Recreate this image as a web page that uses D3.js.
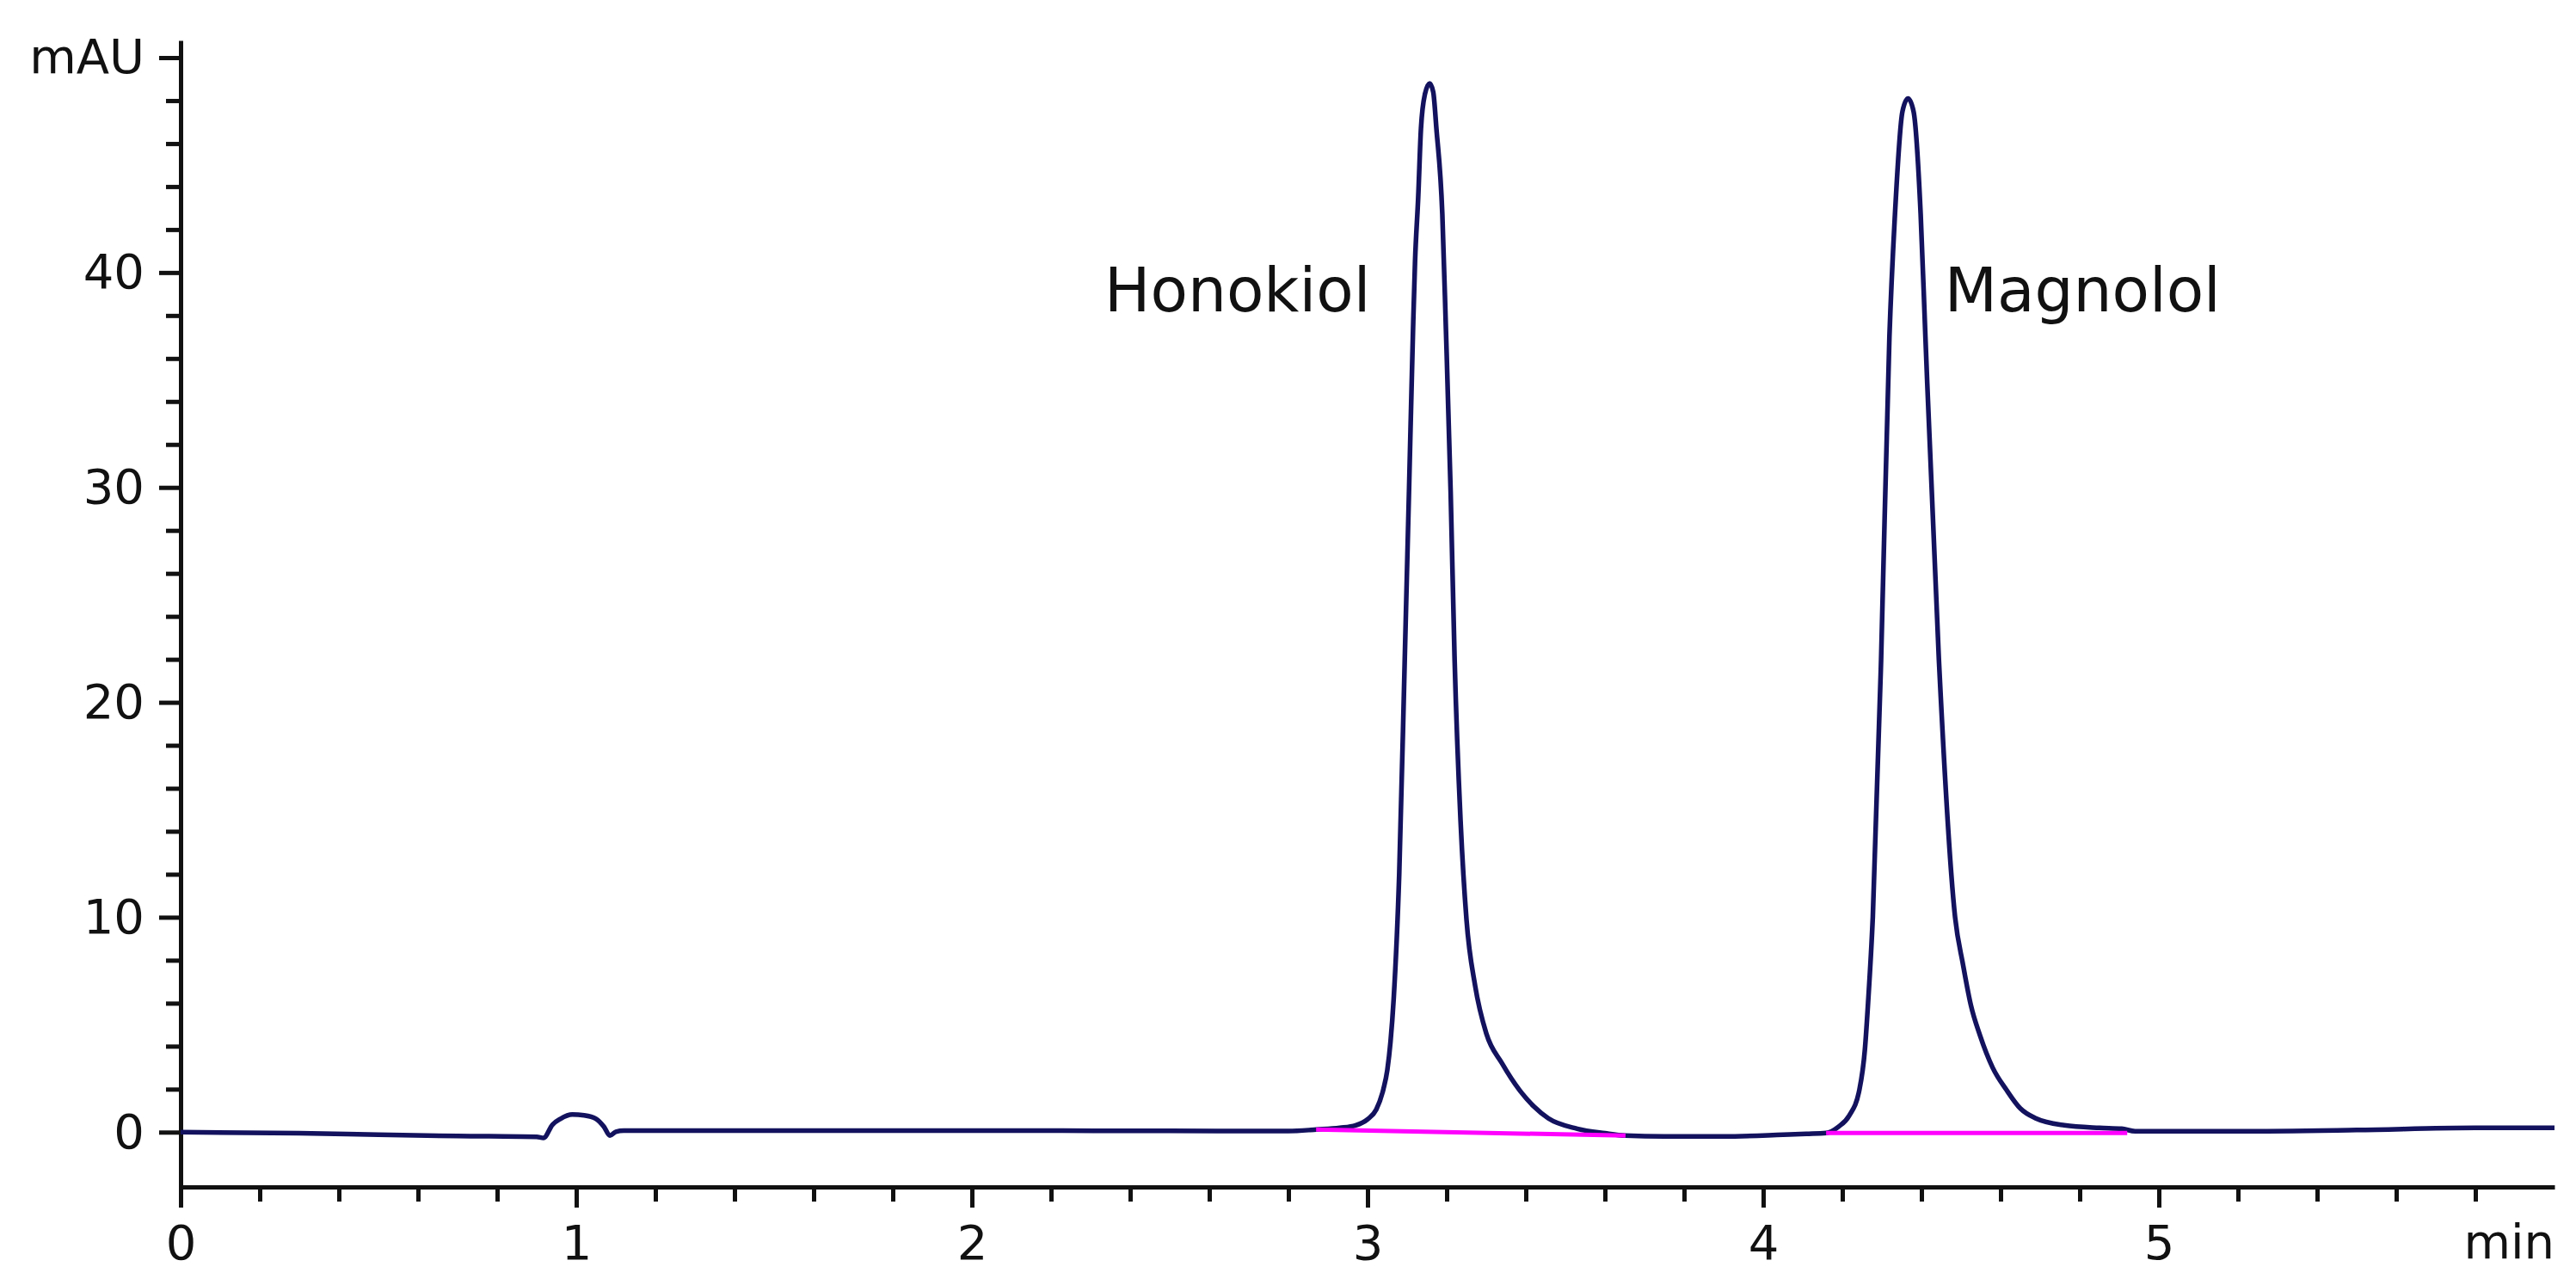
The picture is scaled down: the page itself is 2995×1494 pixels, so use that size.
<!DOCTYPE html>
<html>
<head>
<meta charset="utf-8">
<script src="https://cdn.jsdelivr.net/npm/d3@7"></script>
<style>
html, body { margin: 0; padding: 0; background: #ffffff; }
svg { display: block; }
text { font-family: "DejaVu Sans", sans-serif; fill: #111111; }
</style>
</head>
<body>
<svg id="chart" width="2995" height="1494"></svg>
<script>
// ---- data (time in min, absorbance in mAU) ----
const traceTime = [
  0.00, 0.30, 0.50, 0.70, 0.90, 0.917, 0.94, 0.96, 0.99, 1.02, 1.05, 1.07, 1.085, 1.10, 1.12,
  1.50, 2.00, 2.50, 2.70, 2.80, 2.87, 2.93, 2.97, 3.00, 3.022, 3.04, 3.05, 3.058, 3.066, 3.08,
  3.094, 3.105, 3.115, 3.12, 3.128, 3.135, 3.145, 3.157, 3.166, 3.174, 3.189, 3.198, 3.21, 3.22,
  3.235, 3.25, 3.272, 3.30, 3.34, 3.384, 3.42, 3.457, 3.53, 3.60, 3.652, 3.75, 3.90, 4.05, 4.109,
  4.159, 4.19, 4.217, 4.243, 4.257, 4.265, 4.277, 4.298, 4.319, 4.333, 4.352, 4.366, 4.380, 4.398,
  4.41, 4.444, 4.485, 4.505, 4.525, 4.548, 4.58, 4.615, 4.65, 4.689, 4.761, 4.85, 4.906, 4.94, 5.20, 5.50,
  5.80, 6.00
];
const traceSignal = [
  0.00, -0.05, -0.12, -0.18, -0.22, -0.27, 0.35, 0.62, 0.82, 0.78, 0.62, 0.25, -0.16, 0.02, 0.07,
  0.07, 0.07, 0.06, 0.05, 0.05, 0.12, 0.20, 0.32, 0.60, 1.05, 2.00, 2.90, 4.20, 6.20, 12.0,
  22.0, 30.0, 37.4, 40.5, 43.5, 46.7, 48.3, 48.8, 48.4, 46.7, 42.7, 37.4, 29.8, 22.0,
  14.5, 9.9, 6.8, 4.6, 3.2, 1.96, 1.2, 0.64, 0.16, -0.05, -0.16, -0.20, -0.20, -0.12, -0.08,
  -0.04, 0.25, 0.76, 1.96, 3.84, 6.0, 10.0, 22.0, 37.0, 42.7, 47.5, 48.1, 47.5, 42.7,
  37.0, 22.0, 10.0, 7.8, 5.9, 4.5, 3.0, 1.96, 1.1, 0.64, 0.32, 0.20, 0.16, 0.04, 0.04, 0.10,
  0.20, 0.20
];
// integration baselines: [startTime, startSignal, endTime, endSignal]
const honokiolBaseline = [2.87, 0.12, 3.652, -0.16];
const magnololBaseline = [4.159, -0.04, 4.92, -0.04];
const peakNames = ["Honokiol", "Magnolol"];
const peakLabelTime = [2.335, 4.458];
const peakLabelSignal = [38.2, 38.2];
const xMajorTicks = [0, 1, 2, 3, 4, 5];
const xMinorTicks = [0.2,0.4,0.6,0.8,1.2,1.4,1.6,1.8,2.2,2.4,2.6,2.8,3.2,3.4,3.6,3.8,4.2,4.4,4.6,4.8,5.2,5.4,5.6,5.8];
const yMajorTicks = [0, 10, 20, 30, 40, 50];
const yMinorTicks = [2,4,6,8,12,14,16,18,22,24,26,28,32,34,36,38,42,44,46,48];
const xUnit = "min";
const yUnit = "mAU";

// ---- layout ----
const svg = d3.select("#chart");
const x = d3.scaleLinear().domain([0, 6]).range([210, 2970]);
const y = d3.scaleLinear().domain([-2.55, 50.8]).range([1380, 47]);

const axisColor = "#111111";
const axisWidth = 5;

// Y axis: minor ticks
svg.append("g")
  .attr("transform", `translate(${x(0)},0)`)
  .call(d3.axisLeft(y).tickValues(yMinorTicks).tickSize(17).tickSizeOuter(0).tickFormat(""))
  .call(g => g.select(".domain").remove())
  .call(g => g.selectAll("line").attr("stroke", axisColor).attr("stroke-width", axisWidth));

// Y axis: major ticks + labels
svg.append("g")
  .attr("transform", `translate(${x(0)},0)`)
  .call(d3.axisLeft(y).tickValues(yMajorTicks).tickSize(25).tickSizeOuter(0).tickPadding(17)
        .tickFormat(d => d === 50 ? yUnit : d3.format("d")(d)))
  .call(g => g.select(".domain").attr("stroke", axisColor).attr("stroke-width", axisWidth))
  .call(g => g.selectAll("line").attr("stroke", axisColor).attr("stroke-width", axisWidth))
  .call(g => g.selectAll("text").attr("font-size", 56).attr("font-family", "DejaVu Sans").attr("fill", "#111"));

// X axis: minor ticks
svg.append("g")
  .attr("transform", `translate(0,${y.range()[0]})`)
  .call(d3.axisBottom(x).tickValues(xMinorTicks).tickSize(17).tickSizeOuter(0).tickFormat(""))
  .call(g => g.select(".domain").remove())
  .call(g => g.selectAll("line").attr("stroke", axisColor).attr("stroke-width", axisWidth));

// X axis: major ticks + labels
svg.append("g")
  .attr("transform", `translate(0,${y.range()[0]})`)
  .call(d3.axisBottom(x).tickValues(xMajorTicks).tickSize(24).tickSizeOuter(0).tickPadding(20)
        .tickFormat(d3.format("d")))
  .call(g => g.select(".domain").attr("stroke", axisColor).attr("stroke-width", axisWidth))
  .call(g => g.selectAll("line").attr("stroke", axisColor).attr("stroke-width", axisWidth))
  .call(g => g.selectAll("text").attr("font-size", 56).attr("font-family", "DejaVu Sans").attr("fill", "#111"));

// x unit label
svg.append("text")
  .attr("x", x(6))
  .attr("y", 1463)
  .attr("text-anchor", "end")
  .attr("font-size", 56)
  .text(xUnit);

// ---- trace ----
const traceData = traceTime.map((t, i) => ({t, v: traceSignal[i]}));
const line = d3.line()
  .x(d => x(d.t))
  .y(d => y(d.v))
  .curve(d3.curveMonotoneX);

svg.append("path")
  .datum(traceData)
  .attr("fill", "none")
  .attr("stroke", "#12125e")
  .attr("stroke-width", 5.5)
  .attr("stroke-linejoin", "round")
  .attr("d", line);

// ---- integration baselines ----
[honokiolBaseline, magnololBaseline].forEach(b => {
  svg.append("path")
    .datum([{t: b[0], v: b[1]}, {t: b[2], v: b[3]}])
    .attr("fill", "none")
    .attr("stroke", "#ff00ff")
    .attr("stroke-width", 5)
    .attr("d", d3.line().x(d => x(d.t)).y(d => y(d.v)));
});

// ---- peak labels ----
peakNames.forEach((name, i) => {
  svg.append("text")
    .attr("x", x(peakLabelTime[i]))
    .attr("y", y(peakLabelSignal[i]))
    .attr("font-size", 71)
    .text(name);
});
</script>
</body>
</html>
